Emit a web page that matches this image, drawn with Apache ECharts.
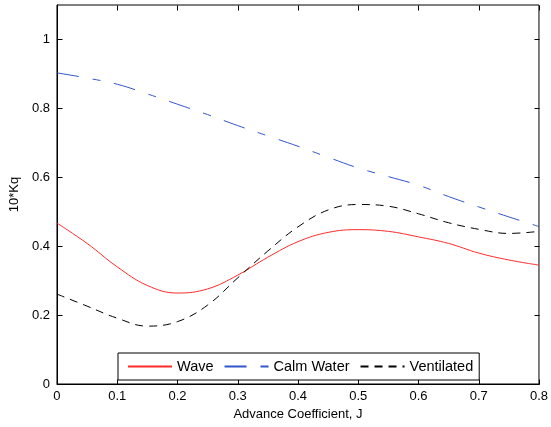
<!DOCTYPE html>
<html>
<head>
<meta charset="utf-8">
<script src="https://cdn.jsdelivr.net/npm/echarts@6/dist/echarts.min.js"></script>
<style>html,body{margin:0;padding:0;background:#fff}#c{width:551px;height:427px}</style>
</head>
<body>
<div id="c"></div>
<script>
const J = [0, 0.05, 0.1, 0.15, 0.2, 0.25, 0.3, 0.35, 0.4, 0.45, 0.5, 0.55, 0.6, 0.65, 0.7, 0.75, 0.8];
const wave = [0.467, 0.408, 0.34, 0.286, 0.264, 0.276, 0.316, 0.368, 0.413, 0.44, 0.448, 0.443, 0.427, 0.408, 0.38, 0.36, 0.345];
const calmWater = [0.903, 0.888, 0.87, 0.842, 0.812, 0.782, 0.75, 0.72, 0.69, 0.658, 0.627, 0.602, 0.577, 0.544, 0.514, 0.485, 0.457];
const ventilated = [0.261, 0.226, 0.191, 0.168, 0.181, 0.229, 0.308, 0.386, 0.456, 0.505, 0.521, 0.516, 0.494, 0.468, 0.449, 0.437, 0.443];
const seriesNames = ['Wave', 'Calm Water', 'Ventilated'];
const xLabel = 'Advance Coefficient, J';
const yLabel = '10*Kq';
const xTicks = [0, 0.1, 0.2, 0.3, 0.4, 0.5, 0.6, 0.7, 0.8];
const yTicks = [0, 0.2, 0.4, 0.6, 0.8, 1.0];

const pairs = arr => J.map((x, i) => [x, arr[i]]);
const font = 'Liberation Sans, Arial, sans-serif';
const TICK = 5;

// inward tick marks on all four sides, placed through the chart's own scales
function tickRender(dim) {
  return function (params, api) {
    const cs = params.coordSys;
    const p = api.coord([api.value(0), api.value(1)]);
    const st = { stroke: '#000', lineWidth: 1 };
    if (dim === 'x') {
      const x = Math.round(p[0]) + 0.5;
      const top = Math.round(cs.y) + 0.5, bot = Math.round(cs.y + cs.height) + 0.5;
      return { type: 'group', children: [
        { type: 'line', shape: { x1: x, y1: top, x2: x, y2: top + TICK }, style: st },
        { type: 'line', shape: { x1: x, y1: bot, x2: x, y2: bot - TICK }, style: st }
      ] };
    } else {
      const y = Math.round(p[1]) + 0.5;
      const left = Math.round(cs.x) + 0.5, right = Math.round(cs.x + cs.width) + 0.5;
      return { type: 'group', children: [
        { type: 'line', shape: { x1: left, y1: y, x2: left + TICK, y2: y }, style: st },
        { type: 'line', shape: { x1: right, y1: y, x2: right - TICK, y2: y }, style: st }
      ] };
    }
  };
}

const chart = echarts.init(document.getElementById('c'), null, { renderer: 'canvas' });
chart.setOption({
  animation: false,
  backgroundColor: '#fff',
  grid: { left: 56, right: 11, top: 5, bottom: 43, show: true, borderColor: '#000', borderWidth: 1, backgroundColor: 'transparent' },
  xAxis: {
    type: 'value', min: 0, max: 0.8, interval: 0.1,
    name: xLabel, nameLocation: 'middle', nameGap: 21,
    nameTextStyle: { fontFamily: font, fontSize: 13, color: '#000' },
    axisLine: { show: true, onZero: false, lineStyle: { color: '#000', width: 1 } },
    axisTick: { show: false },
    splitLine: { show: false },
    axisLabel: { fontFamily: font, fontSize: 13, color: '#000', margin: 6 }
  },
  yAxis: {
    type: 'value', min: 0, max: 1.1, interval: 0.2,
    name: yLabel, nameLocation: 'middle', nameGap: 29,
    nameTextStyle: { fontFamily: font, fontSize: 13, color: '#000' },
    axisLine: { show: true, onZero: false, lineStyle: { color: '#000', width: 1 } },
    axisTick: { show: false },
    splitLine: { show: false },
    axisLabel: { fontFamily: font, fontSize: 13, color: '#000', margin: 7, showMaxLabel: false }
  },
  legend: {
    show: true,
    left: 118, top: 353,
    orient: 'horizontal',
    backgroundColor: '#fff',
    borderColor: '#000', borderWidth: 1, borderRadius: 0,
    padding: [6, 6, 6, 9],
    itemWidth: 44, itemHeight: 10, itemGap: 10,
    itemStyle: { opacity: 0 },
    textStyle: { fontFamily: font, fontSize: 14.5, color: '#000' },
    data: seriesNames,
    z: 10
  },
  series: [
    {
      name: seriesNames[0], type: 'line', data: pairs(wave), smooth: 0.4,
      showSymbol: false, symbol: 'none',
      lineStyle: { color: '#ff2a2a', width: 1, type: 'solid' },
      itemStyle: { color: '#ff2a2a' }
    },
    {
      name: seriesNames[1], type: 'line', data: pairs(calmWater), smooth: 0.4,
      showSymbol: false, symbol: 'none',
      lineStyle: { color: '#3355cc', width: 1, type: [22, 14, 8, 14] },
      itemStyle: { color: '#3355cc' }
    },
    {
      name: seriesNames[2], type: 'line', data: pairs(ventilated), smooth: 0.4,
      showSymbol: false, symbol: 'none',
      lineStyle: { color: '#000', width: 1, type: [8, 6] },
      itemStyle: { color: '#000' }
    },
    {
      name: 'xticks', type: 'custom', silent: true, clip: false, z: 5,
      data: xTicks.map(v => [v, 0]),
      renderItem: tickRender('x')
    },
    {
      name: 'yticks', type: 'custom', silent: true, clip: false, z: 5,
      data: yTicks.map(v => [0, v]),
      renderItem: tickRender('y')
    }
  ]
});
</script>
</body>
</html>
